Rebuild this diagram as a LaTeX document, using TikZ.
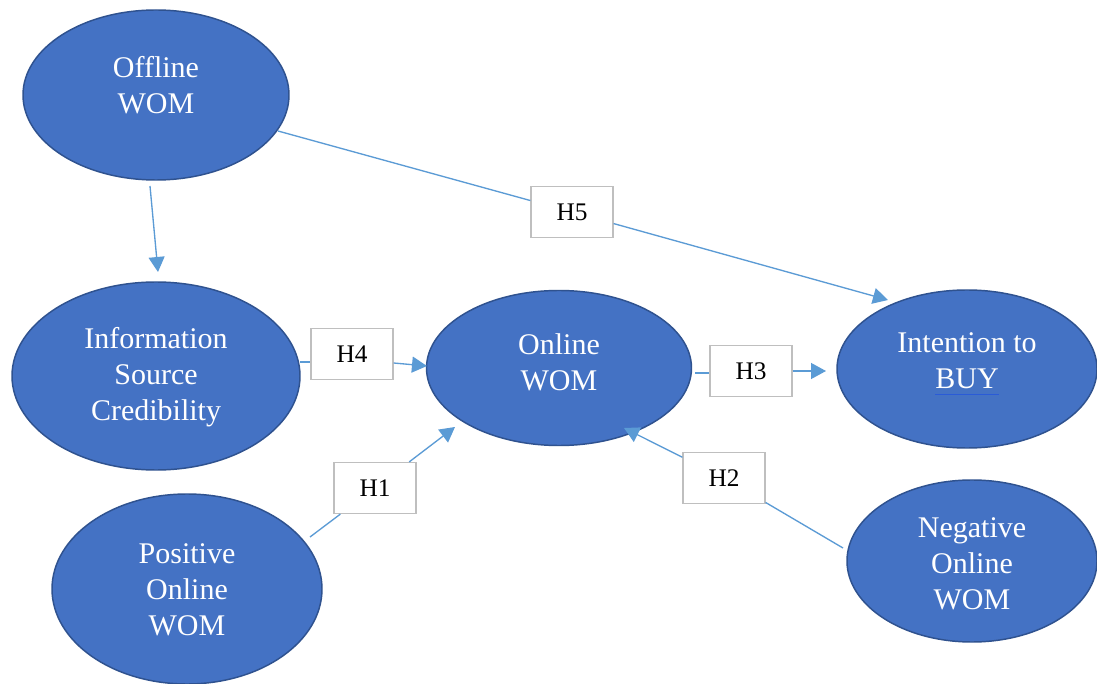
\documentclass[tikz,border=0pt]{standalone}
\usepackage{fontspec}
\setmainfont{Liberation Serif}
\usetikzlibrary{shapes.geometric,arrows.meta,calc}

\definecolor{blobfill}{HTML}{4472C4}
\definecolor{blobedge}{HTML}{2F528F}
\definecolor{linkblue}{HTML}{5B9BD5}
\definecolor{boxedge}{HTML}{BFBFBF}
\definecolor{ulblue}{HTML}{2A5BD7}

\newcommand{\bluebar}[1]{\setbox0=\hbox{#1}\rlap{\textcolor{ulblue}{\rule[-5pt]{\wd0}{1pt}}}\box0}

\tikzset{
  blob/.style 2 args={ellipse, draw=blobedge, line width=1.1pt, fill=blobfill,
    minimum width=#1*0.75pt, minimum height=#2*0.75pt, inner sep=0pt},
  blobtxt/.style={text=white, align=center, font=\fontsize{22.5}{27}\selectfont},
  hyp/.style={draw=boxedge, line width=0.9pt, fill=white, minimum width=61.5pt,
    minimum height=38.25pt, inner sep=0pt, font=\fontsize{19}{22}\selectfont},
  link/.style={draw=linkblue, line width=1pt},
  arrowed/.style={-{Triangle[length=11.25pt,width=12pt]}}
}

\begin{document}
\begin{tikzpicture}[x=0.75pt, y=-0.75pt]
	\fill[white] (0,0) rectangle (1097,684);
	\useasboundingbox (0,0) rectangle (1097,684);

	% constructs
	\node[blob={266}{170}] (off) at (156,95) {};
	\node[blob={288}{188}] (isc) at (156,376) {};
	\node[blob={265}{155}] (onl) at (559,368) {};
	\node[blob={260}{158}] (int) at (967,369) {};
	\node[blob={270}{190}] (pos) at (187,589) {};
	\node[blob={250}{162}] (neg) at (972,561) {};

	\node[blobtxt] (offtxt) at ($(off)+(0,-10)$) {Offline\\WOM};
	\node[blobtxt] (isctxt) at ($(isc)+(0,1)$) {Information\\Source\\Credibility};
	\node[blobtxt] (onltxt) at ($(onl)+(0,-6)$) {Online\\WOM};
	\node[blobtxt] (inttxt) at ($(int)+(0,-5)$) {Intention to\\\bluebar{BUY}};
	\node[blobtxt] (postxt) at ($(pos)+(0,1)$) {Positive\\Online\\WOM};
	\node[blobtxt] (negtxt) at ($(neg)+(0,3)$) {Negative\\Online\\WOM};

	% hypotheses
	\node[hyp] (h5) at (572,212) {H5};
	\node[hyp] (h4) at (352,354) {H4};
	\node[hyp] (h3) at (751,371) {H3};
	\node[hyp] (h1) at (375,488) {H1};
	\node[hyp] (h2) at (724,478) {H2};

	% paths
	\draw[link, arrowed] ($(off)+(-6,91)$) -- ($(isc)+(2,-104)$);
	\draw[link] ($(off)+(122,36)$) -- (h5);
	\draw[link, arrowed] (h5) -- ($(int)+(-79,-69)$);
	\draw[link] ($(isc)+(144,-14)$) -- ($(h4.west)+(0,8)$);
	\draw[link, arrowed] ($(h4.east)+(0,9)$) -- ($(onl)+(-132,-2)$);
	\draw[link] ($(onl)+(136,5)$) -- ($(h3.west)+(0,2)$);
	\draw[link, arrowed] (h3.east) -- ($(int)+(-141,2)$);
	\draw[link] ($(pos)+(123,-52)$) -- (h1);
	\draw[link, arrowed] (h1) -- ($(onl)+(-104,59)$);
	\draw[link] ($(neg)+(-129,-13)$) -- (h2);
	\draw[link, arrowed] (h2) -- ($(onl)+(65,60)$);
\end{tikzpicture}
\end{document}
